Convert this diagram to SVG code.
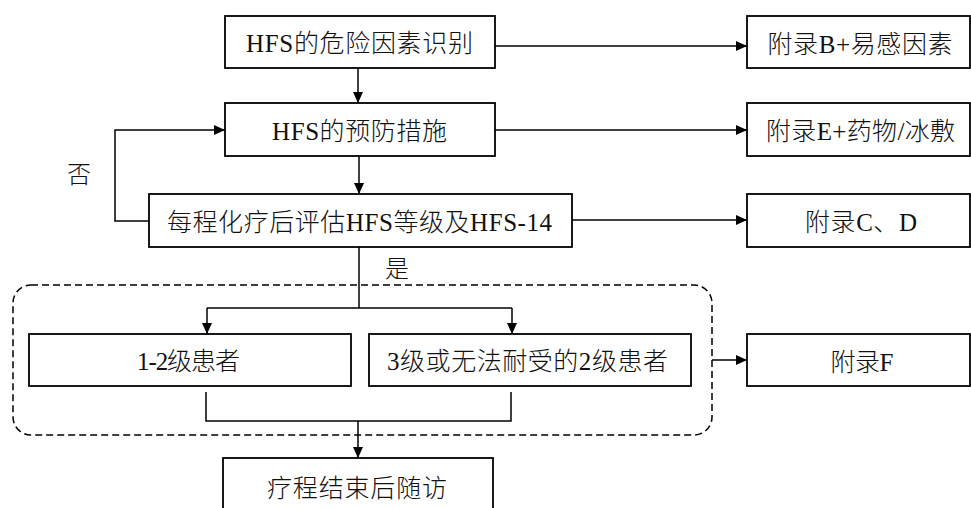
<svg xmlns="http://www.w3.org/2000/svg" width="971" height="508" viewBox="0 0 971 508">
<defs>
<style>
.box{fill:#fff;stroke:#000;stroke-width:1.8}
.ln{fill:none;stroke:#000;stroke-width:1.5}
.t{font-family:"Liberation Serif","Noto Sans CJK SC",serif;font-size:25px;font-weight:300;fill:#111;text-anchor:middle}
.s{font-family:"Liberation Serif","Noto Sans CJK SC",serif;font-size:24px;font-weight:300;fill:#111;text-anchor:middle}
</style>
<marker id="ah" markerUnits="userSpaceOnUse" markerWidth="12" markerHeight="10" refX="11" refY="5" orient="auto">
<path d="M0,0 L11,5 L0,10 Z" fill="#000"/>
</marker>
</defs>
<rect width="971" height="508" fill="#fff"/>
<g id="group-box">
<rect x="13" y="285" width="699" height="150" rx="18" ry="18" fill="none" stroke="#000" stroke-width="1.5" stroke-dasharray="7 4"/>
</g>
<g id="connectors">
<path class="ln" d="M358,68 V103" marker-end="url(#ah)"/>
<path class="ln" d="M359,156 V194" marker-end="url(#ah)"/>
<path class="ln" d="M495,46 H747" marker-end="url(#ah)"/>
<path class="ln" d="M495,130 H747" marker-end="url(#ah)"/>
<path class="ln" d="M572,220 H747" marker-end="url(#ah)"/>
<path class="ln" d="M149,221 H115 V130 H225" marker-end="url(#ah)"/>
<path class="ln" d="M359,247 V308"/>
<path class="ln" d="M207,308 H512"/>
<path class="ln" d="M207,308 V334" marker-end="url(#ah)"/>
<path class="ln" d="M512,308 V334" marker-end="url(#ah)"/>
<path class="ln" d="M206,392 V421 H511 V392"/>
<path class="ln" d="M358,421 V458" marker-end="url(#ah)"/>
<path class="ln" d="M712,360 H747" marker-end="url(#ah)"/>
</g>
<g id="n1"><rect class="box" x="225" y="16" width="270" height="52"/><text class="t" x="359.5" y="52" textLength="227" lengthAdjust="spacing">HFS的危险因素识别</text></g>
<g id="n2"><rect class="box" x="225" y="103" width="270" height="53"/><text class="t" x="359.5" y="140" textLength="175" lengthAdjust="spacing">HFS的预防措施</text></g>
<g id="n3"><rect class="box" x="149" y="194" width="423" height="53"/><text class="t" x="359.5" y="231" textLength="385" lengthAdjust="spacing">每程化疗后评估HFS等级及HFS-14</text></g>
<g id="r1"><rect class="box" x="747" y="16" width="223" height="52"/><text class="t" x="860" y="53" textLength="185" lengthAdjust="spacing">附录B+易感因素</text></g>
<g id="r2"><rect class="box" x="747" y="103" width="223" height="53"/><text class="t" x="860.5" y="140" textLength="189" lengthAdjust="spacing">附录E+药物/冰敷</text></g>
<g id="r3"><rect class="box" x="747" y="194" width="223" height="53"/><text class="t" x="861" y="231" textLength="112" lengthAdjust="spacing">附录C、D</text></g>
<g id="r4"><rect class="box" x="747" y="334" width="223" height="52"/><text class="t" x="862" y="371" textLength="63" lengthAdjust="spacing">附录F</text></g>
<g id="l1"><rect class="box" x="29" y="334" width="322" height="52"/><text class="t" x="188.5" y="370" textLength="103" lengthAdjust="spacing">1-2级患者</text></g>
<g id="m1"><rect class="box" x="369" y="334" width="322" height="52"/><text class="t" x="527.5" y="370" textLength="281" lengthAdjust="spacing">3级或无法耐受的2级患者</text></g>
<g id="b1"><rect class="box" x="223" y="458" width="270" height="53"/><text class="t" x="357" y="497" textLength="180" lengthAdjust="spacing">疗程结束后随访</text></g>
<g id="lbl-no"><text class="s" x="79" y="183">否</text></g>
<g id="lbl-yes"><text class="s" x="397" y="277">是</text></g>
</svg>
